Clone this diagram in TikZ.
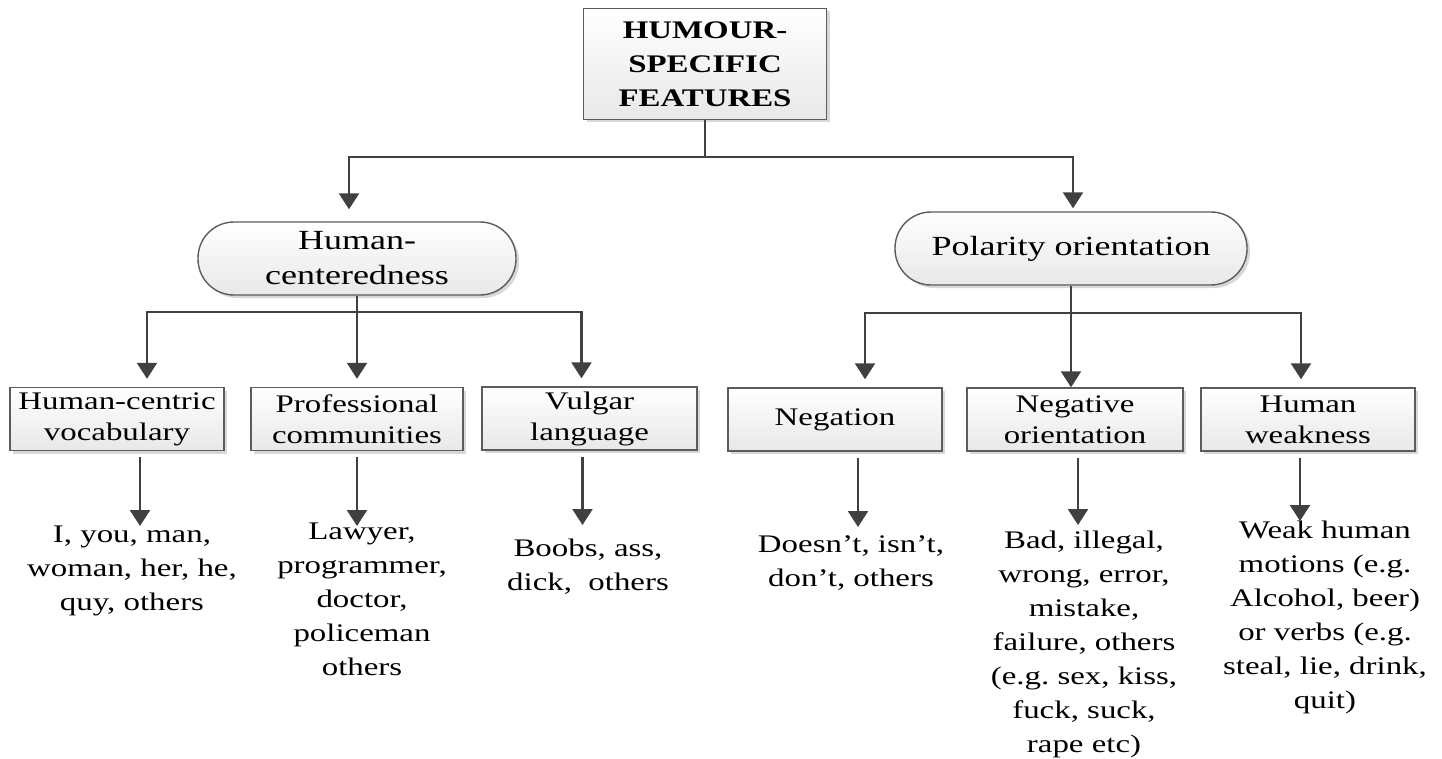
\documentclass[tikz,border=0pt]{standalone}
\usepackage{fontspec}
\setmainfont{Liberation Serif}[FakeStretch=1.3]
\usetikzlibrary{arrows.meta, shadows}

\definecolor{linegray}{HTML}{404040}
\definecolor{edgegray}{HTML}{5C5C5C}

\begin{document}
\frenchspacing
\begin{tikzpicture}[x=1pt, y=-1pt,
    box/.style={draw=edgegray, line width=1.4pt, top color=white, bottom color=black!9,
      drop shadow={shadow xshift=3pt, shadow yshift=-3pt, fill=black!30, opacity=.5},
      align=center, inner sep=0pt, minimum height=63pt,
      font=\fontsize{25.3}{31}\selectfont},
    rootbox/.style={box, minimum width=243pt, minimum height=111pt,
      font=\bfseries\fontsize{25.3}{34}\selectfont},
    pill/.style={box, rounded corners=36pt, minimum height=73pt,
      font=\fontsize{27.7}{35}\selectfont},
    words/.style={align=center, anchor=north, inner sep=0pt,
      font=\fontsize{25.3}{34}\selectfont},
    link/.style={draw=linegray, line width=2.4pt},
    arrow/.style={link, -{Triangle[width=20pt,length=16pt]}}]
  \useasboundingbox (0,0) rectangle (1442,759);

  % top
  \node[rootbox] (root) at (705,64) {HUMOUR-\\ SPECIFIC\\ FEATURES};

  % second level
  \node[pill, minimum width=318pt] (hc) at (357,258.5) {Human-\\ centeredness};
  \node[pill, minimum width=352pt] (po) at (1071,248.5) {Polarity orientation};

  % third level
  \node[box, minimum width=214pt] (hcv) at (117,419) {Human-centric\\ vocabulary};
  \node[box, minimum width=212pt] (pc) at (357,419) {Professional\\ communities};
  \node[box, minimum width=215pt] (vl) at (589.5,418.5) {Vulgar\\ language};
  \node[box, minimum width=214pt] (neg) at (835,419.5) {Negation};
  \node[box, minimum width=216pt] (nor) at (1075,419.5) {Negative\\ orientation};
  \node[box, minimum width=214pt] (hw) at (1308,419.5) {Human\\ weakness};

  % examples
  \node[words] (hcvtxt) at (132,526) {I, you, man,\\ woman, her, he,\\ quy, others};
  \node[words] (pctxt) at (362,523) {Lawyer,\\ programmer,\\ doctor,\\ policeman\\ others};
  \node[words] (vltxt) at (588,539) {Boobs, ass,\\ dick, \ others};
  \node[words] (negtxt) at (851,535) {Doesn’t, isn’t,\\ don’t, others};
  \node[words] (nortxt) at (1084,531) {Bad, illegal,\\ wrong, error,\\ mistake,\\ failure, others\\ (e.g. sex, kiss,\\ fuck, suck,\\ rape etc)};
  \node[words] (hwtxt) at (1325,521) {Weak human\\ motions (e.g.\\ Alcohol, beer)\\ or verbs (e.g.\\ steal, lie, drink,\\ quit)};

  % connectors
  \draw[link] (root.south) -- (root.south |- 0,157) coordinate (rj);
  \draw[arrow, shorten >=12pt] (rj) -| ([xshift=-8pt]hc.north);
  \draw[arrow, shorten >=3pt] (rj) -| ([xshift=2pt]po.north);

  \draw[link] (hc.south) -- ++(0,16) coordinate (hj);
  \draw[arrow, shorten >=8pt] (hj) -| ([xshift=30pt]hcv.north);
  \draw[arrow, shorten >=8pt] (hj) -- (pc.north);
  \draw[arrow, shorten >=8pt] (hj) -| ([xshift=-8pt]vl.north);

  \draw[link] (po.south) -- ++(0,27) coordinate (pj);
  \draw[arrow, shorten >=8pt] (pj) -| ([xshift=-206pt]pj |- neg.north);
  \draw[arrow] (pj) -- (pj |- nor.north);
  \draw[arrow, shorten >=8pt] (pj) -| ([xshift=-7pt]hw.north);

  \draw[arrow, shorten <=6pt] ([xshift=23pt]hcv.south) -- ([xshift=23pt]hcv.south |- hcvtxt.north);
  \draw[arrow, shorten <=6pt, shorten >=-3pt] (pc.south) -- (pc.south |- pctxt.north);
  \draw[arrow, shorten <=6pt, shorten >=14pt] ([xshift=-7pt]vl.south) -- ([xshift=-7pt]vl.south |- vltxt.north);
  \draw[arrow, shorten <=6pt, shorten >=8pt] ([xshift=23pt]neg.south) -- ([xshift=23pt]neg.south |- negtxt.north);
  \draw[arrow, shorten <=6pt, shorten >=6pt] ([xshift=3pt]nor.south) -- ([xshift=3pt]nor.south |- nortxt.north);
  \draw[arrow, shorten <=6pt] ([xshift=-8pt]hw.south) -- ([xshift=-8pt]hw.south |- hwtxt.north);
\end{tikzpicture}
\end{document}
